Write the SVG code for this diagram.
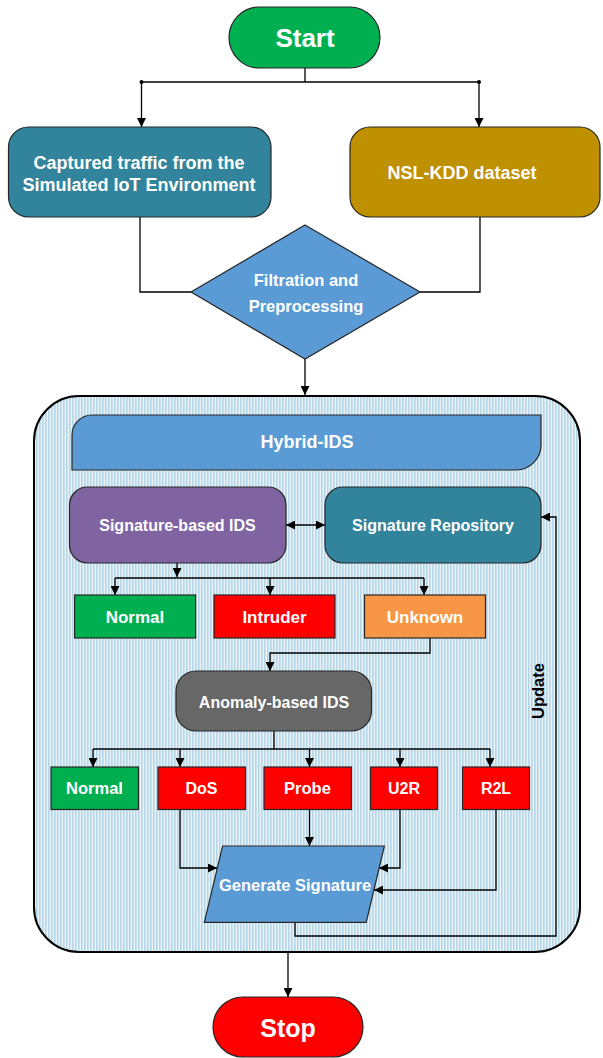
<svg xmlns="http://www.w3.org/2000/svg" width="603" height="1058" viewBox="0 0 603 1058">
<defs>
<pattern id="stripes" width="3" height="10" patternUnits="userSpaceOnUse">
<rect width="3" height="10" fill="#eaf3f8"/>
<rect width="1.6" height="10" fill="#b5d6e6"/>
</pattern>
<marker id="arr" viewBox="0 0 10 10" refX="10" refY="5" markerWidth="9" markerHeight="9" markerUnits="userSpaceOnUse" orient="auto-start-reverse">
<path d="M0,0 L10,5 L0,10 z" fill="#000"/>
</marker>
</defs>
<style>
.t{font-family:"Liberation Sans",Arial,sans-serif;font-weight:bold;fill:#fff;text-anchor:middle;dominant-baseline:central}
.b{stroke:#262626;stroke-width:1.2}
.c{fill:none;stroke:#000;stroke-width:1.3}
.a{marker-end:url(#arr)}
</style>
<g id="container">
<rect x="34" y="396" width="546" height="556" rx="45" fill="url(#stripes)" stroke="#000" stroke-width="2"/>
</g>
<g id="connectors" class="c">
<path d="M305 68 V82"/>
<path d="M141.5 82 H479"/>
<circle cx="141.5" cy="82" r="2" fill="#000" stroke="none"/>
<circle cx="479" cy="82" r="2" fill="#000" stroke="none"/>
<path class="a" d="M141.5 82 V127"/>
<path class="a" d="M479 82 V127"/>
<path d="M140 217 V292 H191"/>
<path d="M480 217 V292 H420"/>
<path class="a" d="M305 359 V395"/>
<path d="M286 525 H325" marker-start="url(#arr)" marker-end="url(#arr)"/>
<path class="a" d="M177 563 V577"/>
<path d="M115 578 H424"/>
<path class="a" d="M115 578 V595"/>
<path class="a" d="M270 578 V595"/>
<path class="a" d="M424 578 V595"/>
<path class="a" d="M430 638 V653 H270 V671"/>
<path d="M274 731 V749"/>
<path d="M93 749 H490"/>
<path class="a" d="M93 749 V767"/>
<path class="a" d="M180 749 V767"/>
<path class="a" d="M309.5 749 V767"/>
<path class="a" d="M400 749 V767"/>
<path class="a" d="M490 749 V767"/>
<path class="a" d="M180 809 V868 H217"/>
<path class="a" d="M309.5 809 V846"/>
<path class="a" d="M400 809 V868 H379"/>
<path class="a" d="M496 809 V890 H374"/>
<path class="a" d="M295 922 V936 H556 V517 H541"/>
<path class="a" d="M288 952 V997"/>
</g>
<g id="start">
<rect class="b" x="229" y="7" width="151" height="61" rx="30.5" fill="#00b050"/>
<text class="t" x="305" y="38" font-size="26">Start</text>
</g>
<g id="captured">
<rect class="b" x="8.5" y="127" width="262.5" height="90" rx="20" fill="#31849b"/>
<text class="t" x="139" y="163" font-size="18">Captured traffic from the</text>
<text class="t" x="139" y="185" font-size="18">Simulated IoT Environment</text>
</g>
<g id="nslkdd">
<rect class="b" x="350" y="127" width="250" height="90" rx="20" fill="#bf9000"/>
<text class="t" x="462" y="173" font-size="18">NSL-KDD dataset</text>
</g>
<g id="filtration">
<path class="b" d="M305 225 L420 292 L305 359 L191 292 Z" fill="#5b9bd5"/>
<text class="t" x="306" y="280" font-size="16.5">Filtration and</text>
<text class="t" x="306" y="306" font-size="16.5">Preprocessing</text>
</g>
<g id="hybrid">
<path class="b" d="M92 415 H541 V445 A25 25 0 0 1 516 470 H72 V435 A20 20 0 0 1 92 415 Z" fill="#5b9bd5"/>
<text class="t" x="307" y="442" font-size="18">Hybrid-IDS</text>
</g>
<g id="sigbased">
<rect class="b" x="69.5" y="487" width="216.5" height="76" rx="18" fill="#8064a2"/>
<text class="t" x="177.5" y="525" font-size="16">Signature-based IDS</text>
</g>
<g id="sigrepo">
<rect class="b" x="325" y="487" width="216" height="76" rx="18" fill="#31849b"/>
<text class="t" x="433" y="525" font-size="16">Signature Repository</text>
</g>
<g id="normal1">
<rect class="b" x="74.6" y="595" width="121" height="43" fill="#00b050"/>
<text class="t" x="135" y="617" font-size="17">Normal</text>
</g>
<g id="intruder">
<rect class="b" x="214" y="595" width="121" height="43" fill="#ff0000"/>
<text class="t" x="274.5" y="617" font-size="17">Intruder</text>
</g>
<g id="unknown">
<rect class="b" x="364.5" y="595" width="121" height="43" fill="#f79646"/>
<text class="t" x="425" y="617" font-size="17">Unknown</text>
</g>
<g id="anomaly">
<rect class="b" x="176" y="671" width="195.5" height="60" rx="20" fill="#676767"/>
<text class="t" x="274" y="702" font-size="16">Anomaly-based IDS</text>
</g>
<g id="normal2">
<rect class="b" x="51" y="767" width="87.5" height="42.5" fill="#00b050"/>
<text class="t" x="94.5" y="788" font-size="16.5">Normal</text>
</g>
<g id="dos">
<rect class="b" x="158" y="767" width="87.5" height="42.5" fill="#ff0000"/>
<text class="t" x="201.5" y="788" font-size="16">DoS</text>
</g>
<g id="probe">
<rect class="b" x="264" y="767" width="87.5" height="42.5" fill="#ff0000"/>
<text class="t" x="307.5" y="788" font-size="16.5">Probe</text>
</g>
<g id="u2r">
<rect class="b" x="370.5" y="767" width="67" height="42.5" fill="#ff0000"/>
<text class="t" x="404" y="788" font-size="16">U2R</text>
</g>
<g id="r2l">
<rect class="b" x="462.5" y="767" width="67" height="42.5" fill="#ff0000"/>
<text class="t" x="496" y="788" font-size="16">R2L</text>
</g>
<g id="generate">
<path class="b" d="M222.6 846 H384.4 L366.2 922.3 H204.3 Z" fill="#5b9bd5"/>
<text class="t" x="295" y="885" font-size="16.5">Generate Signature</text>
</g>
<g id="update">
<text x="538" y="691" font-size="16.5" font-family="Liberation Sans, Arial, sans-serif" font-weight="bold" fill="#000" text-anchor="middle" dominant-baseline="central" transform="rotate(-90 538 691)">Update</text>
</g>
<g id="stop">
<rect class="b" x="213" y="997" width="150" height="60" rx="30" fill="#ff0000"/>
<text class="t" x="288" y="1028" font-size="25">Stop</text>
</g>
</svg>
